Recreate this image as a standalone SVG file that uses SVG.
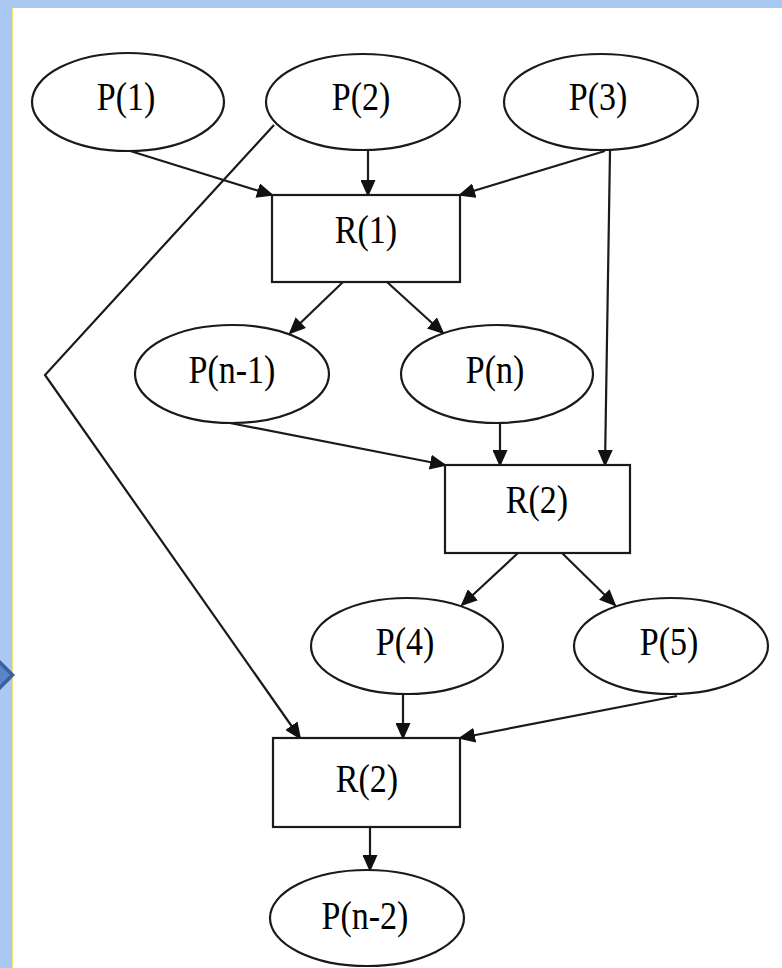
<svg xmlns="http://www.w3.org/2000/svg" width="782" height="968" viewBox="0 0 782 968">
<style>
.shape{fill:#fff;stroke:#1a1a1a;stroke-width:2.2}
.edge{fill:none;stroke:#1a1a1a;stroke-width:2.2}
text{font-family:'Liberation Serif','DejaVu Serif',serif;font-size:34px;fill:#000;text-anchor:middle}
</style>
<defs>
<marker id="ah" markerUnits="userSpaceOnUse" markerWidth="17" markerHeight="15" refX="15" refY="7.5" orient="auto" viewBox="0 0 17 15">
<path d="M0,0 L17,7.5 L0,15 z" fill="#111"/>
</marker>
</defs>
<rect x="0" y="0" width="782" height="968" fill="#fff"/>
<g id="frame">
<rect x="0" y="0" width="782" height="8" fill="#a9c9f2"/>
<rect x="0" y="0" width="12" height="968" fill="#a9c9f2"/>
<rect x="12" y="8" width="1" height="960" fill="#e8e870"/>
<path d="M0,660 L15,675 L0,690 z" fill="#3b5f9e"/>
<path d="M0,665 L10,675 L0,685 z" fill="#5a86c6"/>
</g>
<g id="connectors">
<line class="edge" x1="127" y1="150" x2="272" y2="195" marker-end="url(#ah)"/>
<line class="edge" x1="368" y1="150" x2="368" y2="195" marker-end="url(#ah)"/>
<line class="edge" x1="605" y1="151" x2="460" y2="195" marker-end="url(#ah)"/>
<line class="edge" x1="610" y1="151" x2="605" y2="465" marker-end="url(#ah)"/>
<polyline class="edge" points="274,125 45,375 300,738" marker-end="url(#ah)"/>
<line class="edge" x1="343" y1="282" x2="290" y2="333" marker-end="url(#ah)"/>
<line class="edge" x1="387" y1="282" x2="443" y2="333" marker-end="url(#ah)"/>
<line class="edge" x1="230" y1="423" x2="445" y2="465" marker-end="url(#ah)"/>
<line class="edge" x1="500" y1="423" x2="500" y2="465" marker-end="url(#ah)"/>
<line class="edge" x1="518" y1="553" x2="462" y2="605" marker-end="url(#ah)"/>
<line class="edge" x1="562" y1="553" x2="615" y2="605" marker-end="url(#ah)"/>
<line class="edge" x1="403" y1="695" x2="403" y2="738" marker-end="url(#ah)"/>
<line class="edge" x1="677" y1="696" x2="460" y2="738" marker-end="url(#ah)"/>
<line class="edge" x1="370" y1="827" x2="370" y2="870" marker-end="url(#ah)"/>
</g>
<g id="P1"><ellipse class="shape" cx="128" cy="102" rx="96" ry="49"/><text font-family="Liberation Serif, serif" transform="translate(126,110) scale(1,1.2)">P(1)</text></g>
<g id="P2"><ellipse class="shape" cx="363" cy="102" rx="97" ry="48"/><text font-family="Liberation Serif, serif" transform="translate(361,110) scale(1,1.2)">P(2)</text></g>
<g id="P3"><ellipse class="shape" cx="601" cy="102" rx="97" ry="48"/><text font-family="Liberation Serif, serif" transform="translate(598,110) scale(1,1.2)">P(3)</text></g>
<g id="R1"><rect class="shape" x="272" y="195" width="188" height="87"/><text font-family="Liberation Serif, serif" transform="translate(366,243) scale(1,1.2)">R(1)</text></g>
<g id="Pn1"><ellipse class="shape" cx="232" cy="374" rx="97" ry="49"/><text font-family="Liberation Serif, serif" transform="translate(232,383) scale(1,1.2)">P(n-1)</text></g>
<g id="Pn"><ellipse class="shape" cx="497" cy="374" rx="96" ry="49"/><text font-family="Liberation Serif, serif" transform="translate(495,383) scale(1,1.2)">P(n)</text></g>
<g id="R2a"><rect class="shape" x="445" y="465" width="185" height="88"/><text font-family="Liberation Serif, serif" transform="translate(537,513) scale(1,1.2)">R(2)</text></g>
<g id="P4"><ellipse class="shape" cx="407" cy="646" rx="96" ry="48"/><text font-family="Liberation Serif, serif" transform="translate(405,655) scale(1,1.2)">P(4)</text></g>
<g id="P5"><ellipse class="shape" cx="671" cy="646" rx="97" ry="48"/><text font-family="Liberation Serif, serif" transform="translate(669,655) scale(1,1.2)">P(5)</text></g>
<g id="R2b"><rect class="shape" x="273" y="738" width="187" height="89"/><text font-family="Liberation Serif, serif" transform="translate(367,792) scale(1,1.2)">R(2)</text></g>
<g id="Pn2"><ellipse class="shape" cx="367" cy="918" rx="97" ry="48"/><text font-family="Liberation Serif, serif" transform="translate(365,929) scale(1,1.2)">P(n-2)</text></g>
</svg>
